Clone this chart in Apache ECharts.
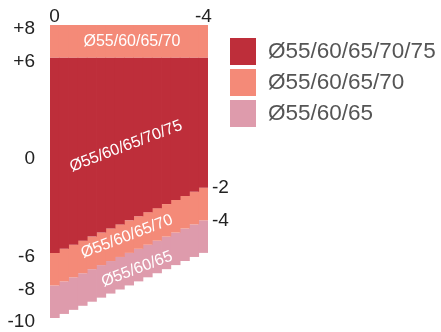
<!DOCTYPE html>
<html>
<head>
<meta charset="utf-8">
<script src="https://cdn.jsdelivr.net/npm/echarts@6/dist/echarts.min.js"></script>
<style>
html,body{margin:0;padding:0;background:#fff;}
#c{width:441px;height:332px;}
</style>
</head>
<body>
<div id="c"></div>
<script>
// ---- data ----
var categories = ['0','-0.25','-0.5','-0.75','-1','-1.25','-1.5','-1.75','-2','-2.25','-2.5','-2.75','-3','-3.25','-3.5','-3.75','-4'];
var pinkBottom   = [-10,-9.75,-9.5,-9.25,-9,-8.75,-8.5,-8.25,-8,-7.75,-7.5,-7.25,-7,-6.75,-6.5,-6.25,-6];
var salmonBottom = [-8,-7.75,-7.5,-7.25,-7,-6.75,-6.5,-6.25,-6,-5.75,-5.5,-5.25,-5,-4.75,-4.5,-4.25,-4];
var redBottom    = [-6,-5.75,-5.5,-5.25,-5,-4.75,-4.5,-4.25,-4,-3.75,-3.5,-3.25,-3,-2.75,-2.5,-2.25,-2];
var redTop       = [6,6,6,6,6,6,6,6,6,6,6,6,6,6,6,6,6];
var salmonTop    = [8,8,8,8,8,8,8,8,8,8,8,8,8,8,8,8,8];
var seriesNames  = ['Ø55/60/65/70/75','Ø55/60/65/70','Ø55/60/65'];
var leftTicks    = [8,6,0,-6,-8,-10];
var leftTickLabels = ['+8','+6','0','-6','-8','-10'];
var rightTicks   = [-2,-4];
var rightTickLabels = ['-2','-4'];
var topTickLabels = ['0','-4'];

var RED = '#be2e3a', SALMON = '#f48a78', PINK = '#de9bac';
var FONT = 'Liberation Sans, Arial, sans-serif';

function diff(a, b){ return a.map(function(v,i){ return v - b[i]; }); }

function bar(name, data, color){
  return {
    type:'bar', name:name, stack:'s', stackStrategy:'all', data:data,
    barWidth:'108%', barGap:'0%',
    itemStyle:{color:color},
    emphasis:{disabled:true}, animation:false, silent:true
  };
}

var chart = echarts.init(document.getElementById('c'), null, {renderer:'canvas'});
chart.setOption({
  animation:false,
  textStyle:{fontFamily:FONT},
  grid:{left:50, right:233, top:25, bottom:14},
  legend:{
    orient:'vertical', left:230, top:38, padding:0,
    data:seriesNames,
    icon:'rect', itemWidth:26, itemHeight:27, itemGap:4,
    textStyle:{fontSize:22.5, color:'#555', fontFamily:FONT, padding:[0,0,0,7]},
    selectedMode:false
  },
  xAxis:{
    type:'category', position:'top', data:categories,
    axisLine:{show:false}, axisTick:{show:false}, splitLine:{show:false},
    axisLabel:{
      interval:function(i){ return i===0 || i===categories.length-1; },
      formatter:function(v, i){ return i===0 ? topTickLabels[0] : topTickLabels[1]; },
      fontSize:19, color:'#222', margin:-1, fontFamily:FONT
    }
  },
  yAxis:[{
    type:'value', min:-10, max:8, interval:1, position:'left',
    axisLine:{show:false}, axisTick:{show:false}, splitLine:{show:false},
    axisLabel:{
      formatter:function(v){ var k = leftTicks.indexOf(v); return k>=0 ? leftTickLabels[k] : ''; },
      fontSize:19, color:'#222', margin:15, fontFamily:FONT,
      verticalAlign:'top', lineHeight:8
    }
  },{
    type:'value', min:-10, max:8, interval:1, position:'right',
    axisLine:{show:false}, axisTick:{show:false}, splitLine:{show:false},
    axisLabel:{
      formatter:function(v){ var k = rightTicks.indexOf(v); return k>=0 ? rightTickLabels[k] : ''; },
      fontSize:19, color:'#222', margin:4, fontFamily:FONT
    }
  }],
  series:[
    bar('base', pinkBottom, 'transparent'),
    bar(seriesNames[2], diff(salmonBottom, pinkBottom), PINK),
    bar(seriesNames[1], diff(redBottom, salmonBottom), SALMON),
    bar(seriesNames[0], diff(redTop, redBottom), RED),
    bar(seriesNames[1], diff(salmonTop, redTop), SALMON)
  ]
});

// in-area labels, placed through the chart's own scales
function at(cat, val, dx){
  var p = chart.convertToPixel({xAxisIndex:0, yAxisIndex:0}, [cat, val]);
  return [p[0] + (dx||0), p[1]];
}
var ROT = 21 * Math.PI / 180;
function lbl(text, pos, rot){
  return {
    type:'text', x:pos[0], y:pos[1], rotation:rot, z:100, silent:true,
    style:{text:text, fill:'#fff', font:'16px ' + FONT, textAlign:'center', textVerticalAlign:'middle'}
  };
}
chart.setOption({
  graphic:[
    lbl(seriesNames[1], at(8, 7, 3), 0),
    lbl(seriesNames[0], at(8, 0.55, -3), ROT),
    lbl(seriesNames[1], at(8, -5, -2), ROT),
    lbl(seriesNames[2], at(8, -7, 8), ROT)
  ]
});
</script>
</body>
</html>
